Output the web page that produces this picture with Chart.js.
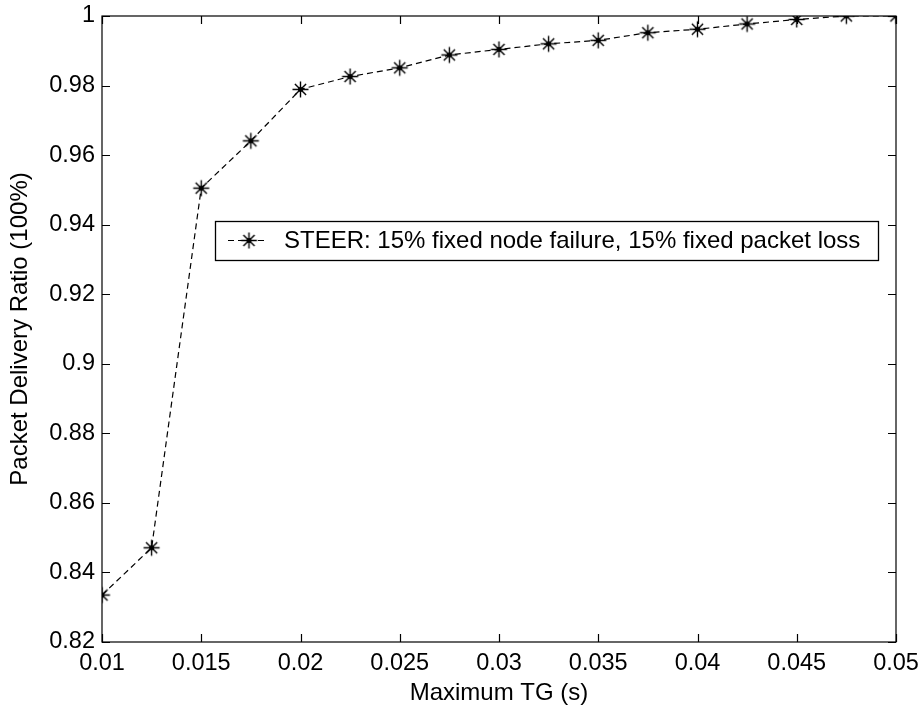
<!DOCTYPE html>
<html>
<head>
<meta charset="utf-8">
<script src="https://cdn.jsdelivr.net/npm/chart.js@4.4.1/dist/chart.umd.min.js"></script>
<style>
  html, body { margin: 0; padding: 0; background: #fff; }
  #wrap { width: 921px; height: 709px; }
</style>
</head>
<body>
<div id="wrap"><canvas id="c" width="921" height="709"></canvas></div>
<script>
// Maximum TG (s) values on the x axis
const maxTG = [0.01, 0.0125, 0.015, 0.0175, 0.02, 0.0225, 0.025, 0.0275, 0.03,
               0.0325, 0.035, 0.0375, 0.04, 0.0425, 0.045, 0.0475, 0.05];
// Packet delivery ratio for each TG value
const deliveryRatio = [0.8335, 0.8471, 0.9505, 0.9641, 0.9789, 0.9826, 0.9851, 0.9888, 0.9904,
                       0.9920, 0.9930, 0.9952, 0.9962, 0.9977, 0.9990, 1.0, 1.0];
const seriesLabel = 'STEER: 15% fixed node failure, 15% fixed packet loss';
const xTicks = [0.01, 0.015, 0.02, 0.025, 0.03, 0.035, 0.04, 0.045, 0.05];
const yTicks = [0.82, 0.84, 0.86, 0.88, 0.9, 0.92, 0.94, 0.96, 0.98, 1];
const xTickLabels = ['0.01', '0.015', '0.02', '0.025', '0.03', '0.035', '0.04', '0.045', '0.05'];
const yTickLabels = ['0.82', '0.84', '0.86', '0.88', '0.9', '0.92', '0.94', '0.96', '0.98', '1'];

const FONT = '"Liberation Sans", Arial, sans-serif';
const FSIZE = 23.5;

// asterisk marker with a filled centre
function makeStar(r) {
  const s = r * 2 + 3;
  const cv = document.createElement('canvas');
  cv.width = s; cv.height = s;
  const g = cv.getContext('2d');
  const c = s / 2;
  g.strokeStyle = '#000';
  g.lineWidth = 1.4;
  g.beginPath();
  g.moveTo(c - r, c); g.lineTo(c + r, c);
  g.moveTo(c, c - r); g.lineTo(c, c + r);
  const d = r * 0.7;
  g.moveTo(c - d, c - d); g.lineTo(c + d, c + d);
  g.moveTo(c - d, c + d); g.lineTo(c + d, c - d);
  g.stroke();
  g.fillStyle = '#000';
  g.beginPath(); g.arc(c, c, 2.5, 0, Math.PI * 2); g.fill();
  return cv;
}
const star = makeStar(8);

// frame with inward ticks on all four sides, plus the boxed legend
const framePlugin = {
  id: 'frame',
  afterDatasetsDraw(chart) {
    const { ctx, chartArea: a, scales } = chart;
    const tl = 8;
    ctx.save();
    ctx.strokeStyle = '#000';
    ctx.lineWidth = 1.2;
    ctx.setLineDash([]);
    ctx.strokeRect(a.left, a.top, a.right - a.left, a.bottom - a.top);
    ctx.beginPath();
    xTicks.forEach(v => {
      const x = Math.round(scales.x.getPixelForValue(v)) + 0.5;
      ctx.moveTo(x, a.bottom); ctx.lineTo(x, a.bottom - tl);
      ctx.moveTo(x, a.top); ctx.lineTo(x, a.top + tl);
    });
    yTicks.forEach(v => {
      const y = Math.round(scales.y.getPixelForValue(v)) + 0.5;
      ctx.moveTo(a.left, y); ctx.lineTo(a.left + tl, y);
      ctx.moveTo(a.right, y); ctx.lineTo(a.right - tl, y);
    });
    ctx.stroke();

    // legend box
    const ds = chart.data.datasets[0];
    const bx = 215, by = 221, bw = 663, bh = 39;
    ctx.fillStyle = '#fff';
    ctx.fillRect(bx, by, bw, bh);
    ctx.lineWidth = 1.3;
    ctx.strokeRect(bx + 0.5, by + 0.5, bw, bh);
    const cy = by + bh / 2;
    ctx.beginPath();
    ctx.setLineDash(ds.borderDash);
    ctx.lineWidth = ds.borderWidth;
    ctx.moveTo(228, cy); ctx.lineTo(268, cy);
    ctx.stroke();
    ctx.setLineDash([]);
    ctx.drawImage(star, 249 - star.width / 2, cy - star.height / 2);
    ctx.fillStyle = '#000';
    ctx.font = '24px ' + FONT;
    ctx.textBaseline = 'middle';
    ctx.textAlign = 'left';
    ctx.fillText(ds.label, 284, cy + 1);
    ctx.restore();
  }
};

new Chart(document.getElementById('c'), {
  type: 'line',
  data: {
    datasets: [{
      label: seriesLabel,
      data: maxTG.map((x, i) => ({ x, y: deliveryRatio[i] })),
      borderColor: '#000',
      borderWidth: 1.2,
      borderDash: [6, 4],
      pointStyle: star,
      pointRadius: 8,
      pointHoverRadius: 8,
      tension: 0,
      fill: false
    }]
  },
  plugins: [framePlugin],
  options: {
    responsive: false,
    animation: false,
    events: [],
    layout: { padding: { top: 16, right: 25, left: 0, bottom: 0 } },
    plugins: { legend: { display: false }, tooltip: { enabled: false } },
    scales: {
      x: {
        type: 'linear',
        min: 0.01, max: 0.05,
        grid: { display: false, drawTicks: false },
        border: { display: false },
        afterFit: s => { s.height = 67; s.paddingLeft = 0; s.paddingRight = 0; },
        afterBuildTicks: s => { s.ticks = xTicks.map(v => ({ value: v })); },
        ticks: {
          color: '#000',
          padding: 7,
          maxRotation: 0,
          autoSkip: false,
          font: { family: FONT, size: FSIZE },
          callback: (v) => xTickLabels[xTicks.findIndex(t => Math.abs(t - v) < 1e-9)]
        },
        title: {
          display: true,
          text: 'Maximum TG (s)',
          color: '#000',
          font: { family: FONT, size: 24 },
          padding: { top: 0, bottom: 1 }
        }
      },
      y: {
        type: 'linear',
        min: 0.82, max: 1,
        grid: { display: false, drawTicks: false },
        border: { display: false },
        afterFit: s => { s.width = 102; s.paddingTop = 0; s.paddingBottom = 0; },
        afterBuildTicks: s => { s.ticks = yTicks.map(v => ({ value: v })); },
        ticks: {
          color: '#000',
          padding: 7,
          autoSkip: false,
          font: { family: FONT, size: FSIZE },
          callback: (v) => yTickLabels[yTicks.findIndex(t => Math.abs(t - v) < 1e-9)]
        },
        title: {
          display: true,
          text: 'Packet Delivery Ratio (100%)',
          color: '#000',
          font: { family: FONT, size: 24 },
          padding: { top: 6, bottom: 0 }
        }
      }
    }
  }
});
</script>
</body>
</html>
